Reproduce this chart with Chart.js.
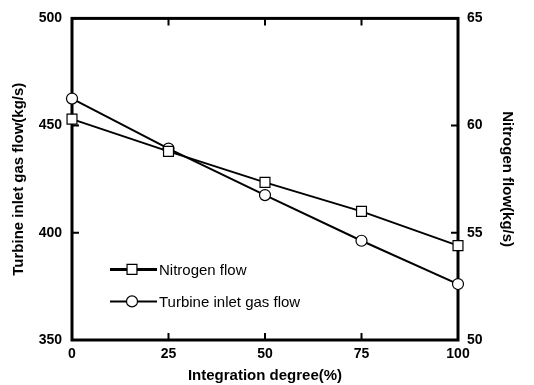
<!DOCTYPE html>
<html><head><meta charset="utf-8">
<script src="https://cdn.jsdelivr.net/npm/chart.js@4/dist/chart.umd.min.js"></script>
<style>html,body{margin:0;padding:0;background:#fff}#wrap{width:534px;height:385px}</style>
</head><body><div id="wrap"><canvas id="c" width="534" height="385"></canvas></div>
<script>
const integrationDegree = [0, 25, 50, 75, 100];
const nitrogenFlow = [60.3, 58.8, 57.35, 56.0, 54.4];
const turbineInletFlow = [462.6, 439.3, 417.6, 396.3, 376.1];
const xTicks = [0, 25, 50, 75, 100];
const leftTicks = [350, 400, 450, 500];
const rightTicks = [50, 55, 60, 65];
const legendLabels = ['Nitrogen flow', 'Turbine inlet gas flow'];

const FONT = "'Liberation Sans', Arial, sans-serif";

const framePlugin = {
  id: 'frame',
  beforeDatasetsDraw(chart) {
    const {ctx, chartArea: a, scales} = chart;
    ctx.save();
    ctx.strokeStyle = '#000';
    ctx.lineWidth = 3;
    ctx.strokeRect(a.left, a.top, a.right - a.left, a.bottom - a.top);
    ctx.lineWidth = 2;
    const L = 7;
    ctx.beginPath();
    xTicks.slice(1, -1).forEach(v => {
      const x = scales.x.getPixelForValue(v);
      ctx.moveTo(x, a.bottom); ctx.lineTo(x, a.bottom - L);
      ctx.moveTo(x, a.top); ctx.lineTo(x, a.top + L);
    });
    leftTicks.slice(1, -1).forEach(v => {
      const y = scales.y.getPixelForValue(v);
      ctx.moveTo(a.left, y); ctx.lineTo(a.left + L, y);
    });
    rightTicks.slice(1, -1).forEach(v => {
      const y = scales.y2.getPixelForValue(v);
      ctx.moveTo(a.right, y); ctx.lineTo(a.right - L, y);
    });
    ctx.stroke();
    ctx.restore();
  },
  afterDatasetsDraw(chart) {
    const {ctx, chartArea: a} = chart;
    ctx.save();
    const lx = a.left + 38, tx = a.left + 87;
    const rows = [
      {y: a.top + 251, lw: 3, style: 'rect', r: 7},
      {y: a.top + 283, lw: 2, style: 'circle', r: 5.5}
    ];
    rows.forEach((row, i) => {
      ctx.strokeStyle = '#000';
      ctx.lineWidth = row.lw;
      ctx.beginPath();
      ctx.moveTo(lx, row.y); ctx.lineTo(lx + 47, row.y);
      ctx.stroke();
      ctx.fillStyle = '#fff';
      ctx.strokeStyle = '#000';
      ctx.lineWidth = 1.2;
      Chart.helpers.drawPoint(ctx, {pointStyle: row.style, rotation: 0, radius: row.r, borderWidth: 1.2}, lx + 22, row.y);
      ctx.fillStyle = '#000';
      ctx.font = '15px ' + FONT;
      ctx.textBaseline = 'middle';
      ctx.textAlign = 'left';
      ctx.fillText(legendLabels[i], tx, row.y + 1);
    });
    ctx.restore();
  }
};

const tickFont = {family: FONT, size: 14, weight: 'bold'};
const titleFont = {family: FONT, size: 15, weight: 'bold'};

new Chart(document.getElementById('c'), {
  type: 'line',
  data: {
    labels: integrationDegree,
    datasets: [
      {
        label: legendLabels[0],
        data: integrationDegree.map((x, i) => ({x, y: nitrogenFlow[i]})),
        yAxisID: 'y2', clip: false,
        borderColor: '#000', borderWidth: 2,
        pointStyle: 'rect', pointRadius: 7, pointBackgroundColor: '#fff',
        pointBorderColor: '#000', pointBorderWidth: 1.2, tension: 0
      },
      {
        label: legendLabels[1],
        data: integrationDegree.map((x, i) => ({x, y: turbineInletFlow[i]})),
        yAxisID: 'y', clip: false,
        borderColor: '#000', borderWidth: 2,
        pointStyle: 'circle', pointRadius: 5.5, pointBackgroundColor: '#fff',
        pointBorderColor: '#000', pointBorderWidth: 1.2, tension: 0
      }
    ]
  },
  options: {
    responsive: false, animation: false,
    layout: {padding: {top: 18, left: 0, right: 0, bottom: 0}},
    plugins: {legend: {display: false}, tooltip: {enabled: false}},
    scales: {
      x: {
        type: 'linear', min: 0, max: 100,
        afterBuildTicks: s => { s.ticks = xTicks.map(v => ({value: v})); },
        afterFit: s => { s.height = 45; },
        grid: {display: false, drawTicks: false}, border: {display: false},
        ticks: {color: '#000', font: tickFont, padding: 6, maxRotation: 0},
        title: {display: true, text: 'Integration degree(%)', color: '#000', font: titleFont, padding: {top: 0, bottom: 0}}
      },
      y: {
        position: 'left', min: 350, max: 500,
        afterBuildTicks: s => { s.ticks = leftTicks.map(v => ({value: v})); },
        afterFit: s => { s.width = 72; },
        grid: {display: false, drawTicks: false}, border: {display: false},
        ticks: {color: '#000', font: tickFont, padding: 10},
        title: {display: true, text: 'Turbine inlet gas flow(kg/s)', color: '#000', font: titleFont, padding: {top: 10, bottom: 0}}
      },
      y2: {
        position: 'right', min: 50, max: 65,
        afterBuildTicks: s => { s.ticks = rightTicks.map(v => ({value: v})); },
        afterFit: s => { s.width = 76; },
        grid: {display: false, drawTicks: false}, border: {display: false},
        ticks: {color: '#000', font: tickFont, padding: 9},
        title: {display: true, text: 'Nitrogen flow(kg/s)', color: '#000', font: titleFont, padding: {top: 18, bottom: 0}}
      }
    }
  },
  plugins: [framePlugin]
});
</script></body></html>
